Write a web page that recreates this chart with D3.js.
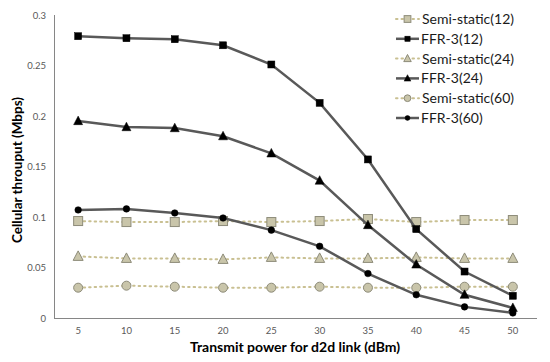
<!DOCTYPE html>
<html>
<head>
<meta charset="utf-8">
<script src="https://cdn.jsdelivr.net/npm/d3@7"></script>
<style>
  body { margin: 0; background: #fff; }
  svg text { font-family: Lato, "Liberation Sans", sans-serif; }
</style>
</head>
<body>
<div id="viz"></div>
<script>
// x categories (transmit power, dBm)
var powers = [5, 10, 15, 20, 25, 30, 35, 40, 45, 50];
var yTicks = [0, 0.05, 0.1, 0.15, 0.2, 0.25, 0.3];

// values
var semi12 = [0.096, 0.095, 0.095, 0.096, 0.095, 0.096, 0.098, 0.095, 0.097, 0.097];
var ffr12  = [0.279, 0.277, 0.276, 0.270, 0.251, 0.213, 0.157, 0.088, 0.046, 0.022];
var semi24 = [0.061, 0.059, 0.059, 0.058, 0.060, 0.059, 0.059, 0.060, 0.059, 0.059];
var ffr24  = [0.195, 0.189, 0.188, 0.180, 0.163, 0.136, 0.092, 0.053, 0.023, 0.010];
var semi60 = [0.030, 0.032, 0.031, 0.030, 0.030, 0.031, 0.030, 0.030, 0.031, 0.031];
var ffr60  = [0.107, 0.108, 0.104, 0.099, 0.087, 0.071, 0.044, 0.023, 0.011, 0.005];

var seriesNames = ["Semi-static(12)", "FFR-3(12)", "Semi-static(24)", "FFR-3(24)", "Semi-static(60)", "FFR-3(60)"];
var seriesValues = [semi12, ffr12, semi24, ffr24, semi60, ffr60];
var seriesMarkers = ["square", "square", "triangle", "triangle", "circle", "circle"];

var w = 550, h = 362;
var margin = { left: 54, right: 13, top: 15, bottom: 44 };

var svg = d3.select("div#viz").append("svg")
  .attr("width", w).attr("height", h);

var x = d3.scaleBand().domain(powers).range([margin.left, w - margin.right]);
var y = d3.scaleLinear().domain([0, 0.3]).range([h - margin.bottom, margin.top]);

var cx = function(d, i) { return x(powers[i]) + x.bandwidth() / 2; };

// axes lines
svg.append("line")
  .attr("x1", margin.left + 0.5).attr("x2", margin.left + 0.5)
  .attr("y1", y(0.3)).attr("y2", y(0))
  .attr("stroke", "#868686").attr("stroke-width", 1);
svg.append("line")
  .attr("x1", margin.left).attr("x2", w - margin.right)
  .attr("y1", y(0) + 0.5).attr("y2", y(0) + 0.5)
  .attr("stroke", "#868686").attr("stroke-width", 1);

var xAxis = d3.axisBottom(x).tickSize(0).tickPadding(9);
var gx = svg.append("g")
  .attr("transform", "translate(0," + y(0) + ")")
  .call(xAxis);
gx.select(".domain").remove();
gx.selectAll("text").attr("fill", "#595959").style("font-size", "9.5px");

var yAxis = d3.axisLeft(y).tickValues(yTicks).tickSize(0).tickPadding(8)
  .tickFormat(function(d) { return d3.format("")(+d.toFixed(2)); });
var gy = svg.append("g")
  .attr("transform", "translate(" + margin.left + ",0)")
  .call(yAxis);
gy.select(".domain").remove();
gy.selectAll("text").attr("fill", "#595959").style("font-size", "9.5px");

// axis titles
svg.append("text")
  .attr("x", 295).attr("y", 352)
  .attr("text-anchor", "middle")
  .style("font-size", "14px").style("font-weight", "bold")
  .attr("fill", "#000")
  .text("Transmit power for d2d link (dBm)");

svg.append("text")
  .attr("transform", "translate(22,170)rotate(-90)")
  .attr("text-anchor", "middle")
  .style("font-size", "13.5px").style("font-weight", "bold")
  .attr("fill", "#000")
  .text("Cellular throuput (Mbps)");

var isSemi = function(i) { return i % 2 == 0; };

var styleOf = function(i) {
  if (isSemi(i)) {
    return { line: "#c9c092", width: 2, dash: "1.5 4", fill: "#c9c5aa", stroke: "#8d8b79" };
  }
  return { line: "#595959", width: 2.5, dash: null, fill: "#000", stroke: "#000" };
};

var drawMarker = function(g, type, px, py, st, semi, k) {
  k = k || 1;
  var s = (semi ? 9 : 7) * k;
  if (type == "square") {
    g.append("rect")
      .attr("x", px - s / 2).attr("y", py - s / 2)
      .attr("width", s).attr("height", s)
      .attr("fill", st.fill).attr("stroke", st.stroke).attr("stroke-width", semi ? 1 : 0.5);
  } else if (type == "triangle") {
    var t = (semi ? 10 : 9) * k;
    var pts = [[px, py - t * 0.55], [px - t / 2, py + t * 0.4], [px + t / 2, py + t * 0.4]];
    g.append("polygon")
      .attr("points", pts.map(function(p) { return p.join(","); }).join(" "))
      .attr("fill", st.fill).attr("stroke", st.stroke).attr("stroke-width", semi ? 1 : 0.5);
  } else {
    g.append("circle")
      .attr("cx", px).attr("cy", py).attr("r", (semi ? 4.5 : 3.3) * k)
      .attr("fill", st.fill).attr("stroke", st.stroke).attr("stroke-width", semi ? 1 : 0.5);
  }
};

var plotLine = d3.line()
  .x(function(d, i) { return cx(d, i); })
  .y(function(d) { return y(d); });

// semi-static first, FFR on top
var order = [0, 2, 4, 1, 3, 5];
order.forEach(function(i) {
  var st = styleOf(i);
  var g = svg.append("g");
  g.append("path")
    .datum(seriesValues[i])
    .attr("d", plotLine)
    .attr("fill", "none")
    .attr("stroke", st.line)
    .attr("stroke-width", st.width)
    .attr("stroke-dasharray", st.dash)
    .attr("stroke-linecap", isSemi(i) ? "round" : "butt");
  seriesValues[i].forEach(function(v, k) {
    drawMarker(g, seriesMarkers[i], cx(v, k), y(v), st, isSemi(i));
  });
});

// legend
var legend = svg.append("g");
seriesNames.forEach(function(name, i) {
  var st = styleOf(i);
  var ly = 19 + i * 19.8;
  legend.append("line")
    .attr("x1", 396).attr("x2", 419)
    .attr("y1", ly).attr("y2", ly)
    .attr("stroke", st.line).attr("stroke-width", st.width)
    .attr("stroke-dasharray", st.dash)
    .attr("stroke-linecap", isSemi(i) ? "round" : "butt");
  drawMarker(legend, seriesMarkers[i], 407.5, ly, st, isSemi(i), 0.75);
  legend.append("text")
    .attr("x", isSemi(i) ? 422 : 421).attr("y", ly + 5)
    .style("font-size", "14px")
    .attr("fill", "#1a1a1a")
    .text(name);
});
</script>
</body>
</html>
